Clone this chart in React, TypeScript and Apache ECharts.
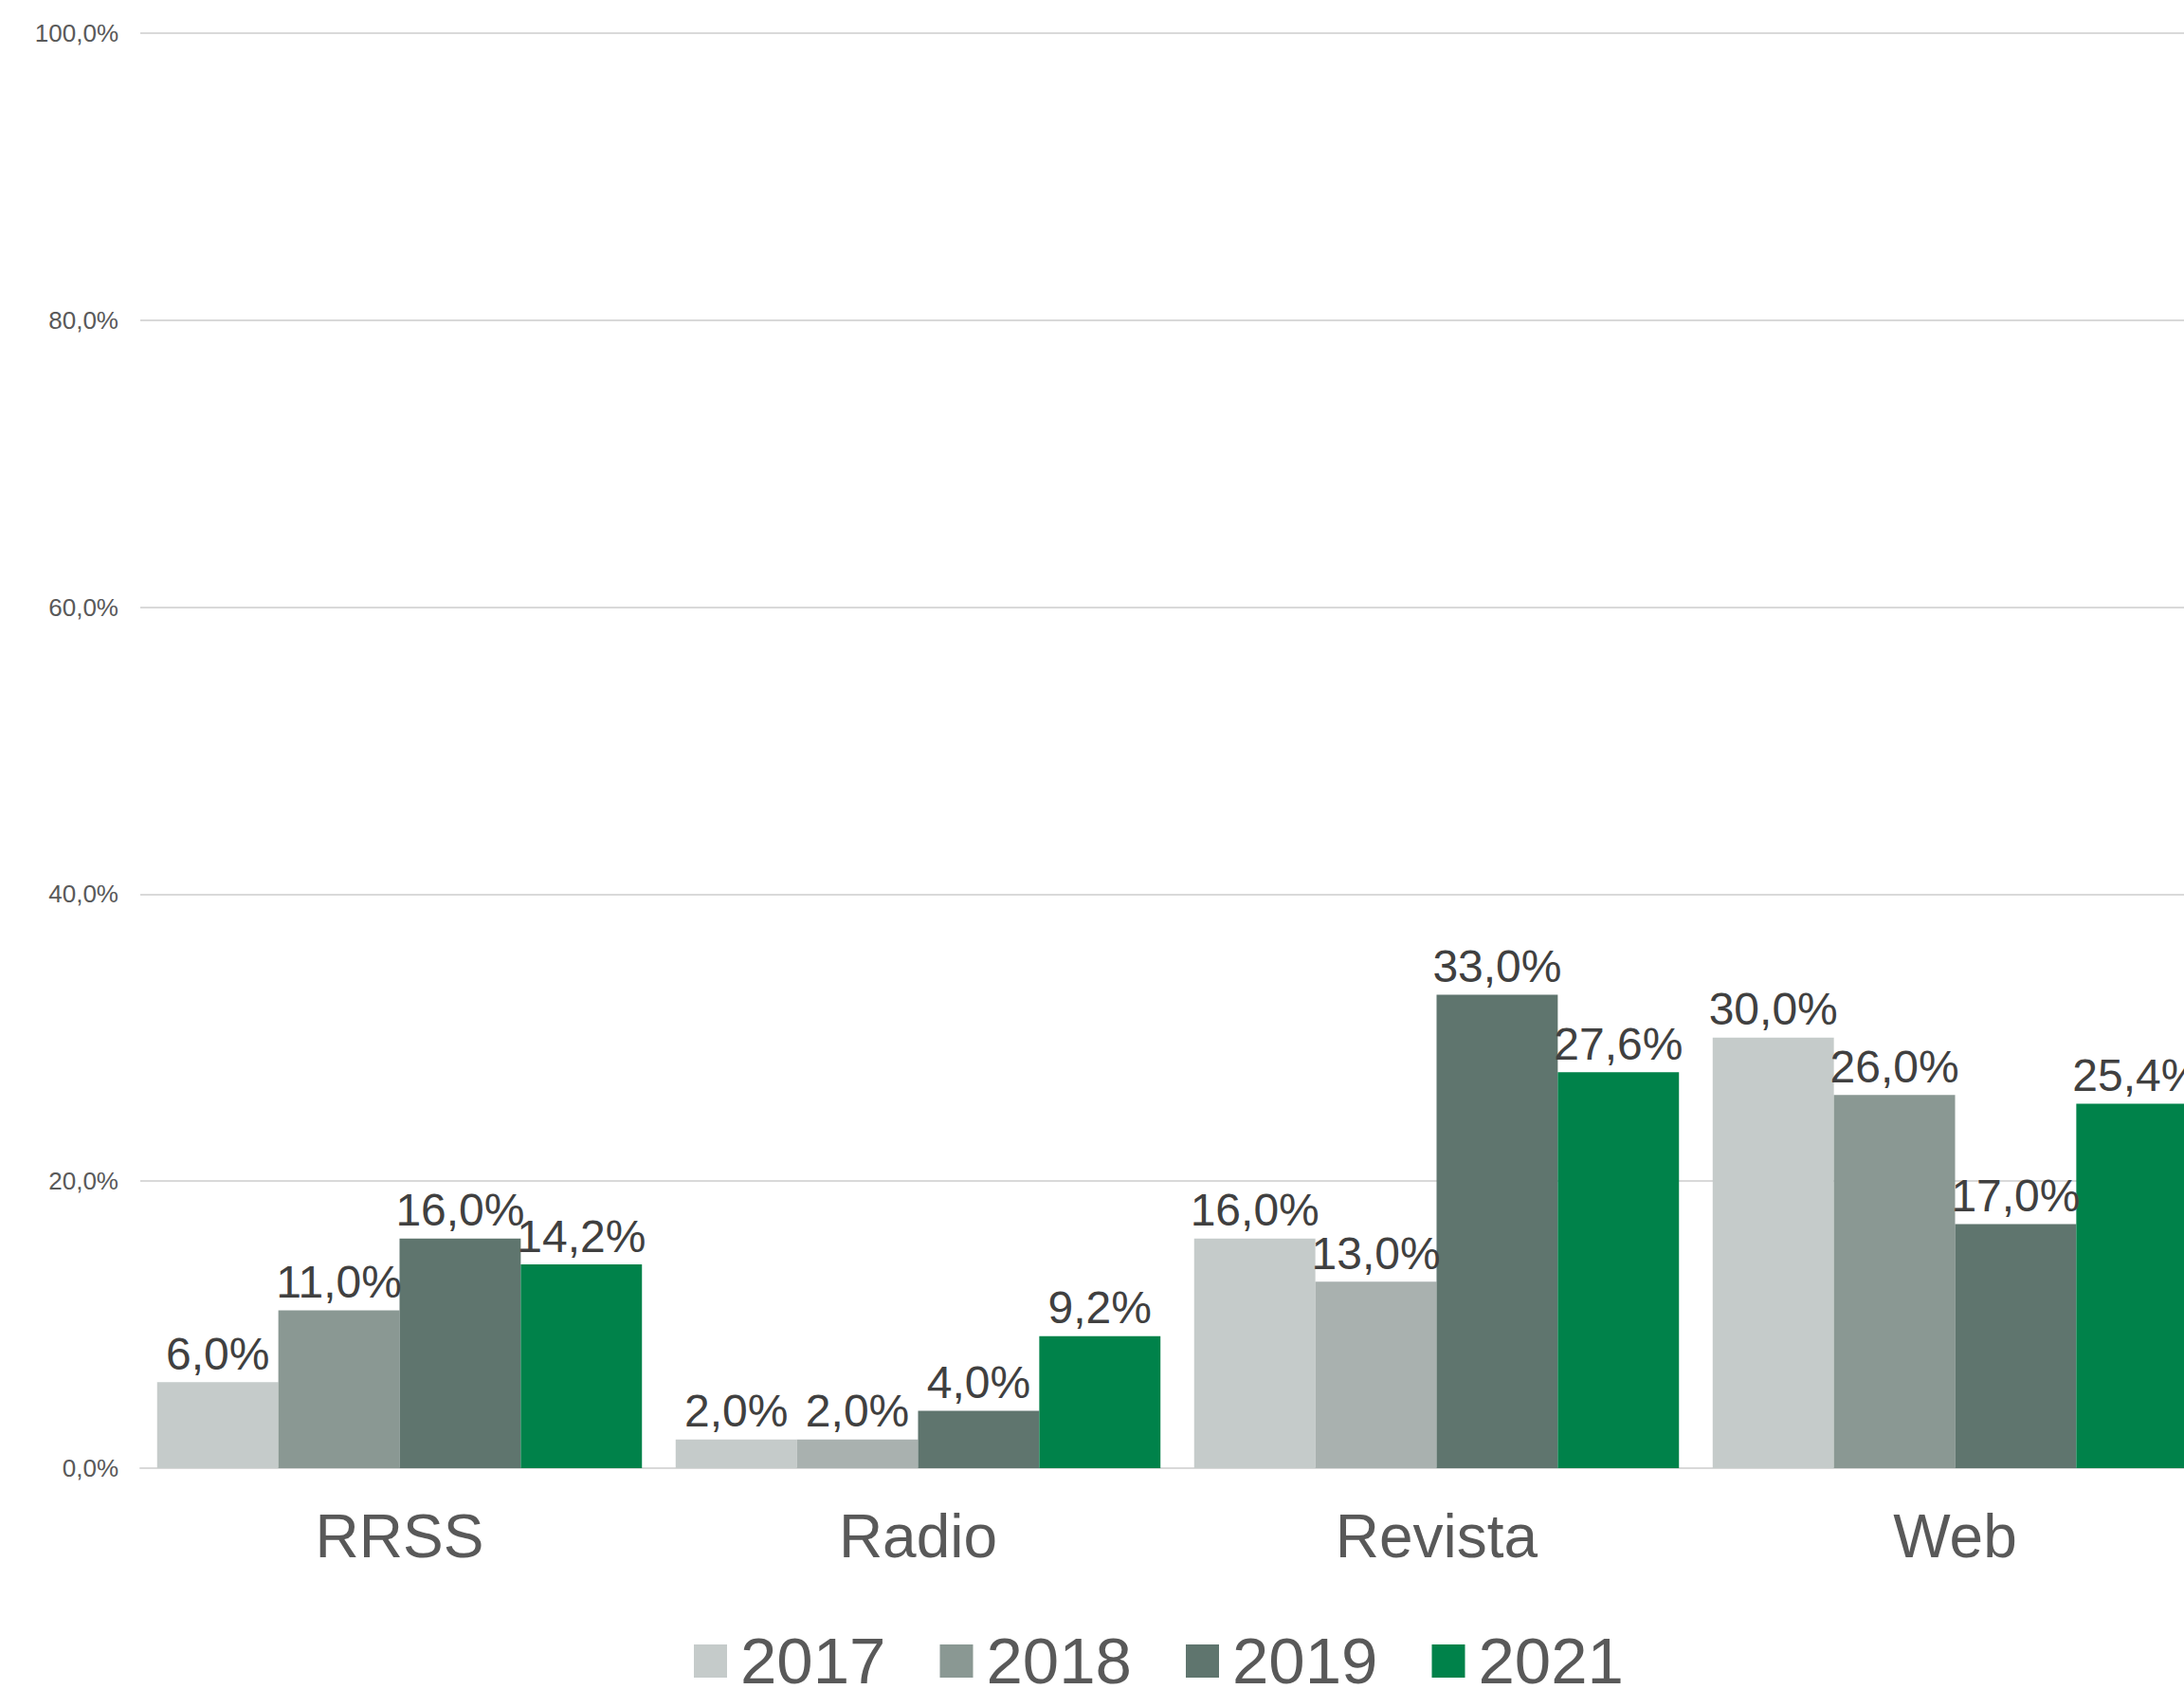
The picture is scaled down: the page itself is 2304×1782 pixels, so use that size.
import React, { useEffect, useRef } from "react";
import * as echarts from "echarts";

const categories = ["RRSS", "Radio", "Revista", "Web"];
const years = ["2017", "2018", "2019", "2021"];
const values2017 = [6.0, 2.0, 16.0, 30.0];
const values2018 = [11.0, 2.0, 13.0, 26.0];
const values2019 = [16.0, 4.0, 33.0, 17.0];
const values2021 = [14.2, 9.2, 27.6, 25.4];
const seriesColors = ["#c5cbca", "#8a9893", "#5f756e", "#00824a"];
// 2018 bars for Radio and Revista are drawn in a lighter grey in the reference
const colors2018ByCategory = ["#8a9893", "#a9b1af", "#a9b1af", "#8a9893"];
const yTicks = { min: 0, max: 100, interval: 20 };

const fmt = (v: number) => v.toFixed(1).replace(".", ",") + "%";
const FONT = "'Liberation Sans', Arial, sans-serif";

export default function App() {
  const ref = useRef<HTMLDivElement>(null);
  useEffect(() => {
    if (!ref.current) return;
    const chart = echarts.init(ref.current, undefined, { renderer: "svg" });
    const allValues = [values2017, values2018, values2019, values2021];
    const series = years.map((y, i) => ({
      name: y,
      type: "bar",
      barGap: "0%",
      barCategoryGap: "6.5%",
      itemStyle: { color: seriesColors[i] },
      data: allValues[i].map((v, j) =>
        i === 1 ? { value: v, itemStyle: { color: colors2018ByCategory[j] } } : v
      ),
      label: {
        show: true,
        position: "top",
        distance: 6,
        formatter: (p: any) => fmt(p.value),
        color: "#404040",
        fontSize: 48,
        fontFamily: FONT,
      },
    }));
    chart.setOption({
      animation: false,
      backgroundColor: "#ffffff",
      textStyle: { fontFamily: FONT },
      legend: {
        data: years.map((y, i) => ({ name: y, itemStyle: { color: seriesColors[i] } })),
        left: 727,
        top: 1713,
        itemWidth: 35,
        itemHeight: 35,
        itemGap: 57,
        icon: "rect",
        textStyle: { fontSize: 69, color: "#595959", fontFamily: FONT, padding: [0, 0, 0, 9] },
      },
      grid: { left: 148, right: 4, top: 35, bottom: 233, containLabel: false },
      xAxis: {
        type: "category",
        data: categories,
        axisLine: { show: true, lineStyle: { color: "#d9d9d9", width: 2 } },
        axisTick: { show: false },
        axisLabel: { color: "#595959", fontSize: 64, margin: 40, fontFamily: FONT },
      },
      yAxis: {
        type: "value",
        min: yTicks.min,
        max: yTicks.max,
        interval: yTicks.interval,
        axisLine: { show: false },
        axisTick: { show: false },
        splitLine: { lineStyle: { color: "#d9d9d9", width: 2 } },
        axisLabel: {
          color: "#595959",
          fontSize: 26,
          margin: 23,
          fontFamily: FONT,
          formatter: (v: number) => fmt(v),
        },
      },
      series,
    });
    return () => chart.dispose();
  }, []);
  return (
    <div
      style={{
        position: "fixed",
        left: 0,
        top: 0,
        width: 2304,
        height: 1782,
        overflow: "hidden",
        background: "#fff",
      }}
    >
      <div ref={ref} style={{ width: 2340, height: 1782 }} />
    </div>
  );
}
